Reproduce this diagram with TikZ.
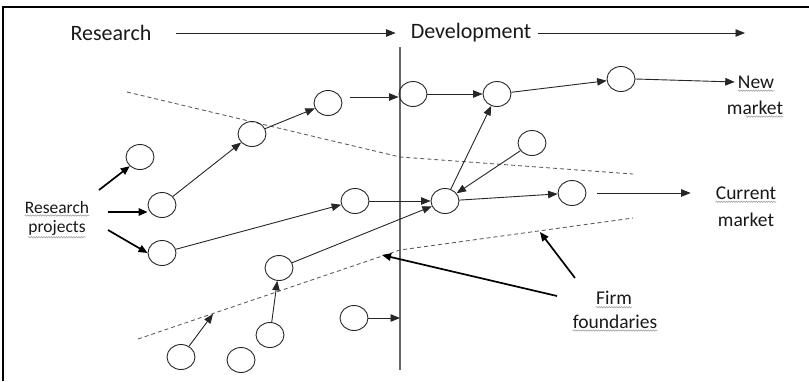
\documentclass[tikz,border=0pt]{standalone}
\usepackage{fontspec}
\setmainfont{Carlito}
\usetikzlibrary{arrows.meta,shapes.geometric,decorations.pathmorphing}
\begin{document}
\begin{tikzpicture}[x=1pt,y=-1pt,
  circ/.style={draw=black!85, line width=0.9pt, ellipse, minimum width=28pt, minimum height=25pt, inner sep=0pt},
  arr/.style={draw=black!85, line width=0.9pt, -{Triangle[length=9.5pt,width=7.5pt]}},
  thickarr/.style={draw=black, line width=1.7pt, -{Triangle[length=9pt,width=7.5pt]}},
  hdr/.style={font=\fontsize{22}{24}\selectfont, inner sep=0pt, text=black!90},
  lbl/.style={font=\fontsize{19.5}{22}\selectfont, inner sep=0pt, text=black!90},
  lbls/.style={font=\fontsize{17.5}{20}\selectfont, inner sep=0pt, text=black!90},
  bound/.style={draw=black!65, line width=0.85pt, dash pattern=on 4pt off 3pt},
  vline/.style={draw=black!60, line width=1.2pt},
  squig/.style={draw=black!40, line width=0.5pt, decorate, decoration={snake, amplitude=0.7pt, segment length=2.5pt}}
]
\useasboundingbox (0,0) rectangle (809,381);
% frame
\draw[line width=1.5pt] (3,381) -- (3,7) -- (809,7);

% header
\node[hdr] (hres) at (111,33) {Research};
\node[hdr] (hdev) at (471,33) {Development};
\draw[arr] ([xshift=24pt]hres.east) -- ([xshift=-15pt]hdev.west);
\coordinate (hend) at (745,33);
\draw[arr] ([xshift=7pt]hdev.east) -- (hend);

% vertical divider
\coordinate (vtop) at (400,47);
\coordinate (vbot) at (400,370);
\draw[vline] (vtop) -- (vbot);

% boundaries
\coordinate (u1) at (127,92);
\coordinate (u2) at (400,157);
\coordinate (u3) at (633,174);
\draw[bound] (u1) -- (u2) -- (u3);
\coordinate (l1) at (138,339);
\coordinate (l2) at (400,250);
\coordinate (l3) at (633,218);
\draw[bound] (l1) -- (l2) -- (l3);

% circles
\node[circ] (c1) at (140,157) {};
\node[circ] (c2) at (162,205) {};
\node[circ] (c3) at (162,253) {};
\node[circ] (c4) at (355,201) {};
\node[circ] (c5) at (279,268) {};
\node[circ] (c6) at (354,318) {};
\node[circ] (c7) at (270,335) {};
\node[circ] (c8) at (181,357) {};
\node[circ] (c9) at (241,360) {};
\node[circ] (c10) at (252,134) {};
\node[circ] (c11) at (328,103) {};
\node[circ] (c12) at (413,94) {};
\node[circ] (c13) at (497,94) {};
\node[circ] (c14) at (621,79) {};
\node[circ] (c15) at (532,143) {};
\node[circ] (c16) at (445,201) {};
\node[circ] (c17) at (572,193) {};

% labels
\node[lbls] (rp1) at (57,207) {Research};
\node[lbls] (rp2) at (57,228) {projects};
\node[lbl] (nm1) at (756,82) {New};
\node[lbl] (nm2) at (755,108) {market};
\node[lbl] (cm1) at (746,193) {Current};
\node[lbl] (cm2) at (746,220) {market};
\node[lbl] (ff1) at (614,298) {Firm};
\node[lbl] (ff2) at (615,322) {foundaries};

% spell-check squiggles
\draw[squig] ([yshift=-2.5pt]rp1.base west) -- ([yshift=-2.5pt]rp1.base east);
\draw[squig] ([yshift=-1.5pt]rp2.south west) -- ([yshift=-1.5pt]rp2.south east);
\draw[squig] ([yshift=-2.5pt]nm1.base west) -- ([yshift=-2.5pt]nm1.base east);
\draw[squig] ([yshift=-1.5pt,xshift=19pt]nm2.south west) -- ([yshift=-1.5pt]nm2.south east);
\draw[squig] ([yshift=-2.5pt]cm1.base west) -- ([yshift=-2.5pt]cm1.base east);
\draw[squig] ([yshift=-2.5pt]ff1.base west) -- ([yshift=-2.5pt]ff1.base east);
\draw[squig] ([yshift=-1.5pt]ff2.south west) -- ([yshift=-1.5pt]ff2.south east);

% research project arrows
\coordinate (r1) at (99,190);
\coordinate (r2) at (108,212);
\coordinate (r3) at (108,230);
\draw[thickarr] (r1) -- (c1.south west);
\draw[thickarr] (r2) -- (r2 -| c2.west);
\draw[thickarr] (r3) -- (c3.west);

% top chain
\draw[arr] (c2) -- (c10);
\draw[arr] (c10) -- (c11);
\coordinate (s1) at (350,97);
\draw[arr] (s1) -- (s1 -| c12.west);
\draw[arr] (c12) -- (c13);
\draw[arr] (c13) -- (c14);
\draw[arr] (c14.east) -- ([xshift=-3pt]nm1.west);

% middle chain
\draw[arr] (c3) -- (c4);
\draw[arr] (c4.east) -- (c16.west);
\draw[arr] (c5) -- (c16);
\draw[arr] (c16) -- (c13);
\draw[arr] (c15) -- (c16);
\draw[arr] (c16) -- (c17);
\coordinate (cs) at (597,193);
\draw[arr] (cs) -- ([xshift=-25pt]cm1.west);

% bottom
\draw[arr] (c7) -- (c5);
\coordinate (d1) at (213,314);
\draw[arr] (c8) -- (d1);
\draw[arr] (c6.east) -- (c6.east -| vtop);

% firm foundaries arrows
\coordinate (f1) at (557,296);
\coordinate (f1t) at (382,255);
\coordinate (f2) at (575,278);
\coordinate (f2t) at (540,232);
\draw[thickarr] (f1) -- (f1t);
\draw[thickarr] (f2) -- (f2t);
\end{tikzpicture}
\end{document}
